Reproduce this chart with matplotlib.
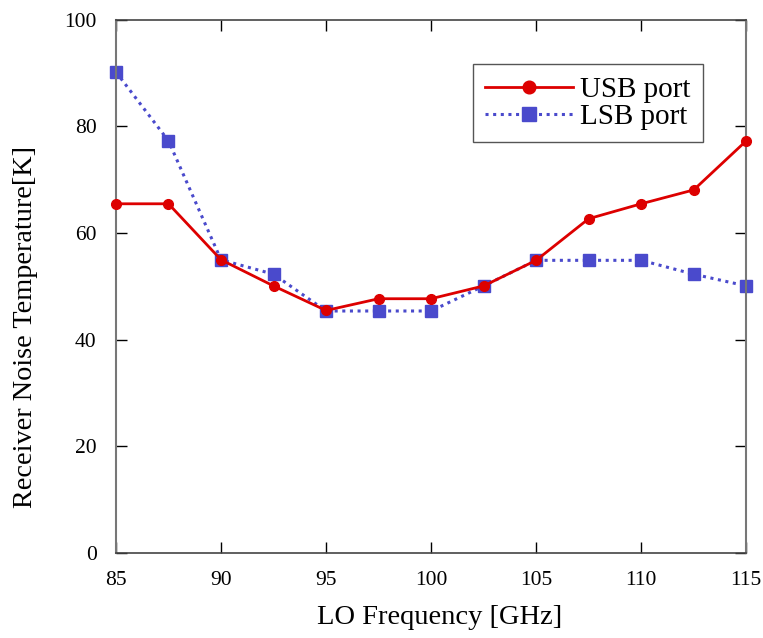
import matplotlib
matplotlib.use("Agg")
import matplotlib.pyplot as plt

freq = [85, 87.5, 90, 92.5, 95, 97.5, 100, 102.5, 105, 107.5, 110, 112.5, 115]
usb = [65.5, 65.5, 55.0, 50.1, 45.5, 47.7, 47.7, 50.1, 54.9, 62.7, 65.5, 68.1, 77.3]
lsb = [90.2, 77.3, 55.0, 52.3, 45.4, 45.4, 45.4, 50.1, 54.9, 54.9, 54.9, 52.3, 50.1]
xticks = [85, 90, 95, 100, 105, 110, 115]
yticks = [0, 20, 40, 60, 80, 100]

plt.rcParams['font.family'] = ['Liberation Serif', 'DejaVu Serif']

fig = plt.figure(figsize=(7.63, 6.38), dpi=100)
ax = fig.add_axes([0.152, 0.133, 0.826, 0.836])

ax.plot(freq, usb, color='#dd0000', lw=2.0, marker='o', ms=7, label='USB port', clip_on=False, zorder=3)
ax.plot(freq, lsb, color='#4a4acc', lw=2.2, ls=(0, (1, 1.5)), marker='s', ms=8, label='LSB port', clip_on=False, zorder=2)

ax.set_xlim(85, 115)
ax.set_ylim(0, 100)
ax.set_xticks(xticks)
ax.set_yticks(yticks)
ax.tick_params(direction='in', length=8, width=1, top=True, right=True, labelsize=15.5)
ax.tick_params(axis='x', pad=13)
ax.tick_params(axis='y', pad=14)
for s in ['left', 'right']:
    ax.spines[s].set_color('#777777')
    ax.spines[s].set_linewidth(1.5)
for s in ['top', 'bottom']:
    ax.spines[s].set_color('#444444')
    ax.spines[s].set_linewidth(1.2)

ax.set_xlabel('LO Frequency [GHz]', fontsize=20.5)
ax.set_ylabel('Receiver Noise Temperature[K]', fontsize=20.3)
ax.xaxis.set_label_coords(0.514, -0.097)
ax.yaxis.set_label_coords(-0.123, 0.424)

leg = ax.legend(loc='upper right', bbox_to_anchor=(0.931, 0.917), fontsize=21, fancybox=False,
                edgecolor='#555555', framealpha=1, borderpad=0.42, labelspacing=0.02,
                handlelength=3.0, handletextpad=0.25, borderaxespad=0, markerscale=1.3)
leg.get_frame().set_linewidth(1.0)

fig.savefig('out.png', dpi=100)
